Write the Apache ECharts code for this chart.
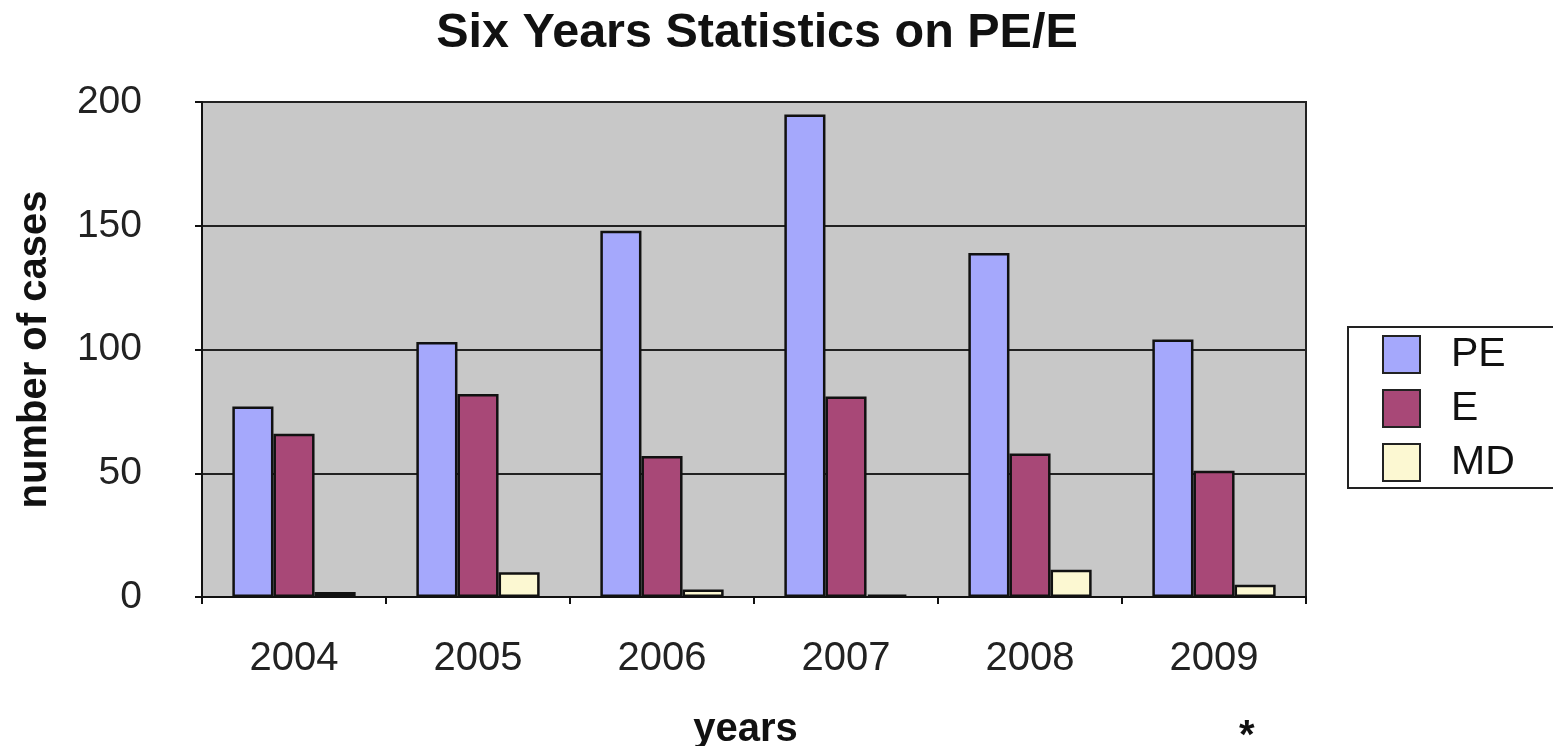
<!DOCTYPE html>
<html>
<head>
<meta charset="utf-8">
<title>Six Years Statistics on PE/E</title>
<script src="https://cdn.jsdelivr.net/npm/echarts@6/dist/echarts.min.js"></script>
<style>
  html, body { margin: 0; padding: 0; background: #ffffff; }
  #chart { width: 1553px; height: 746px; }
</style>
</head>
<body>
<div id="chart"></div>
<script>
// Case counts per year
const years = ['2004', '2005', '2006', '2007', '2008', '2009'];
const peCases = [77, 103, 148, 195, 139, 104];
const eCases = [66, 82, 57, 81, 58, 51];
const mdCases = [2, 10, 3, 1, 11, 5];
const seriesNames = ['PE', 'E', 'MD'];
const seriesColors = ['#a5a8fc', '#a84877', '#fcf8d2'];

const font = '"Liberation Sans", Arial, Helvetica, sans-serif';
const chart = echarts.init(document.getElementById('chart'), null, { renderer: 'canvas' });

const barStyle = (i) => ({
  color: seriesColors[i],
  borderColor: '#111111',
  borderWidth: 2.5
});

chart.setOption({
  animation: false,
  backgroundColor: '#ffffff',
  title: {
    text: 'Six Years Statistics on PE/E',
    left: 752,
    textAlign: 'center',
    top: 4,
    textStyle: { fontFamily: font, fontSize: 48.5, fontWeight: 'bold', color: '#111111' }
  },
  legend: {
    data: seriesNames,
    orient: 'vertical',
    left: 1348,
    top: 327,
    padding: [7, 70, 5, 34],
    icon: 'rect',
    itemWidth: 37,
    itemHeight: 37,
    itemGap: 13,
    backgroundColor: '#ffffff',
    borderColor: '#222222',
    borderWidth: 2,
    borderRadius: 0,
    itemStyle: { borderColor: '#222222', borderWidth: 2 },
    textStyle: { fontFamily: font, fontSize: 41, color: '#111111', lineHeight: 37, padding: [0, 0, 0, 26] }
  },
  grid: {
    left: 202,
    right: 247,
    top: 102,
    bottom: 149,
    show: true,
    backgroundColor: '#c8c8c8',
    borderColor: '#222222',
    borderWidth: 2,
    containLabel: false,
    outerBoundsMode: 'none'
  },
  xAxis: {
    type: 'category',
    data: years,
    name: 'years',
    nameLocation: 'middle',
    nameGap: 113,
    nameTextStyle: { fontFamily: font, fontSize: 40, fontWeight: 'bold', color: '#111111', padding: [0, 17, 0, 0] },
    axisLine: { lineStyle: { color: '#111111', width: 2 } },
    axisTick: { show: true, length: 7, lineStyle: { color: '#111111', width: 2 } },
    axisLabel: { margin: 42, fontFamily: font, fontSize: 40, color: '#222222' },
    splitLine: { show: false }
  },
  yAxis: {
    type: 'value',
    min: 0,
    max: 200,
    interval: 50,
    name: 'number of cases',
    nameLocation: 'middle',
    nameGap: 147,
    nameRotate: 90,
    nameTextStyle: { fontFamily: font, fontSize: 40, fontWeight: 'bold', color: '#111111' },
    axisLine: { show: true, lineStyle: { color: '#111111', width: 2 } },
    axisTick: { show: true, length: 7, lineStyle: { color: '#111111', width: 2 } },
    axisLabel: { margin: 60, fontFamily: font, fontSize: 39, color: '#222222' },
    splitLine: { show: true, lineStyle: { color: '#222222', width: 2 } }
  },
  series: [
    { name: seriesNames[0], type: 'bar', data: peCases, itemStyle: barStyle(0), barGap: '0%', barCategoryGap: '33%' },
    { name: seriesNames[1], type: 'bar', data: eCases, itemStyle: barStyle(1), barGap: '0%', barCategoryGap: '33%' },
    { name: seriesNames[2], type: 'bar', data: mdCases, itemStyle: barStyle(2), barGap: '0%', barCategoryGap: '33%' }
  ],
  graphic: [
    {
      type: 'text',
      left: 1239,
      top: 717,
      style: { text: '*', fontFamily: font, fontSize: 40, fontWeight: 'bold', fill: '#111111' }
    }
  ]
});
</script>
</body>
</html>
